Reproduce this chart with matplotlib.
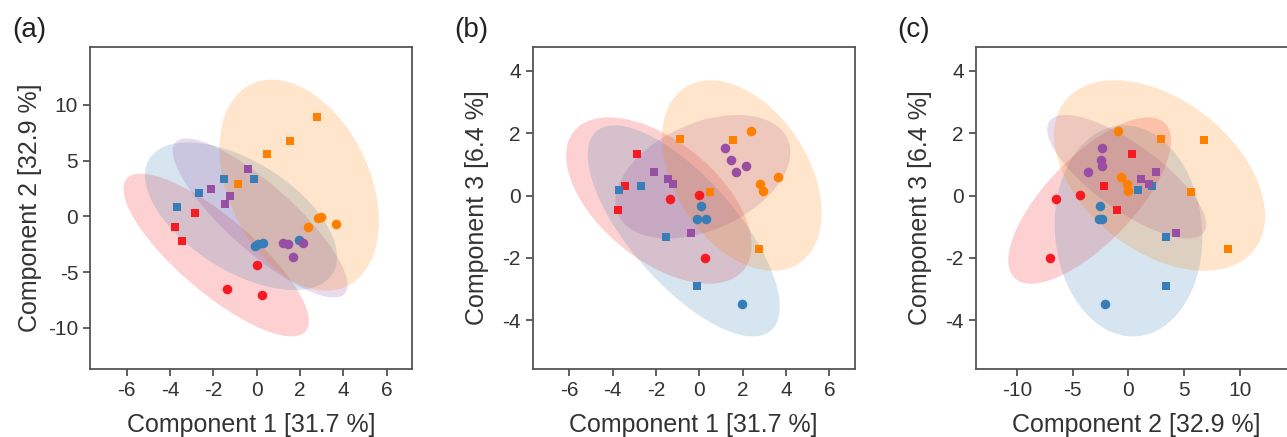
import numpy as np
import matplotlib
matplotlib.use("Agg")
import matplotlib.pyplot as plt
from matplotlib.patches import Ellipse

plt.rcParams['font.family'] = ['Liberation Sans', 'DejaVu Sans']
plt.rcParams['axes.unicode_minus'] = False

# scores per group: (PC1, PC2, PC3); squares and circles
groups = ['red', 'blue', 'purple', 'orange']
colors = {'red': '#f81a22', 'blue': '#377eb8', 'purple': '#984ea3', 'orange': '#ff7f00'}

red_sq = [(-2.86, 0.29, 1.32), (-3.77, -1.00, -0.47), (-3.45, -2.20, 0.30)]
red_ci = [(0.00, -4.38, 0.02), (-1.37, -6.48, -0.12), (0.24, -7.05, -2.01)]
blue_sq = [(-3.69, 0.85, 0.17), (-2.68, 2.08, 0.31), (-1.52, 3.39, -1.34), (-0.12, 3.39, -2.91)]
blue_ci = [(-0.09, -2.65, -0.74), (0.07, -2.50, -0.33), (0.30, -2.35, -0.76), (1.97, -2.11, -3.48)]
purple_sq = [(-2.11, 2.44, 0.74), (-0.40, 4.26, -1.19), (-1.22, 1.87, 0.37), (-1.46, 1.15, 0.53)]
purple_ci = [(1.20, -2.38, 1.53), (1.46, -2.47, 1.15), (2.15, -2.38, 0.95), (1.68, -3.66, 0.75)]
orange_sq = [(2.77, 8.96, -1.73), (1.54, 6.80, 1.78), (0.48, 5.58, 0.10), (-0.88, 2.92, 1.82)]
orange_ci = [(2.38, -0.97, 2.06), (2.81, -0.16, 0.38), (2.95, -0.02, 0.14), (3.65, -0.70, 0.59)]

squares = {'red': red_sq, 'blue': blue_sq, 'purple': purple_sq, 'orange': orange_sq}
circles = {'red': red_ci, 'blue': blue_ci, 'purple': purple_ci, 'orange': orange_ci}

axis_names = ['Component 1 [31.7 %]', 'Component 2 [32.9 %]', 'Component 3 [6.4 %]']
panels = [('(a)', 0, 1), ('(b)', 0, 2), ('(c)', 1, 2)]
limits = {0: (-7.69, 7.17), 1: (-13.7, 15.2), 2: (-5.57, 4.77)}
ticks = {0: [-6, -4, -2, 0, 2, 4, 6], 1: [-10, -5, 0, 5, 10], 2: [-4, -2, 0, 2, 4]}

CHI2_95 = 5.991


def conf_ellipse(ax, pts, color):
    """95 % confidence ellipse from sample covariance."""
    pts = np.asarray(pts)
    mean = pts.mean(axis=0)
    cov = np.cov(pts, rowvar=False)
    vals, vecs = np.linalg.eigh(cov)
    order = vals.argsort()[::-1]
    vals, vecs = vals[order], vecs[:, order]
    angle = np.degrees(np.arctan2(vecs[1, 0], vecs[0, 0]))
    w, h = 2 * np.sqrt(vals * CHI2_95)
    e = Ellipse(mean, w, h, angle=angle, facecolor=color, edgecolor='none',
                alpha=0.2, zorder=1)
    ax.add_patch(e)


fig = plt.figure(figsize=(12.87, 4.37), dpi=100)
W, H = 1287, 437
lefts = [90, 532.7, 975.7]
size = 322

for (label, i, j), left in zip(panels, lefts):
    ax = fig.add_axes([left / W, (437 - 369) / H, size / W, size / H])
    for g in groups:
        allpts = np.array(squares[g] + circles[g])
        conf_ellipse(ax, allpts[:, [i, j]], colors[g])
    for g in groups:
        sq = np.array(squares[g])
        ci = np.array(circles[g])
        ax.scatter(sq[:, i], sq[:, j], marker='s', s=30, color=colors[g],
                   linewidths=0, zorder=3)
        ax.scatter(ci[:, i], ci[:, j], marker='o', s=48, color=colors[g],
                   linewidths=0, zorder=3)
    ax.set_xlim(limits[i])
    ax.set_ylim(limits[j])
    ax.set_xticks(ticks[i])
    ax.set_yticks(ticks[j])
    ax.set_xlabel(axis_names[i], fontsize=18, color='#333333')
    ax.set_ylabel(axis_names[j], fontsize=18, color='#333333')
    ax.xaxis.set_label_coords(0.5, -0.138)
    ax.yaxis.set_label_coords(-0.149 if label == '(a)' else -0.135, 0.5)
    ax.tick_params(direction='out', length=5, width=1.2, colors='#444444',
                   labelsize=15, labelcolor='#333333')
    for sp in ax.spines.values():
        sp.set_color('#555555')
        sp.set_linewidth(1.3)
    fig.text((left - 78) / W, 1 - 30 / H, label, fontsize=20, color='#222222',
             va='center', ha='left')

fig.savefig('out.png', dpi=100)
